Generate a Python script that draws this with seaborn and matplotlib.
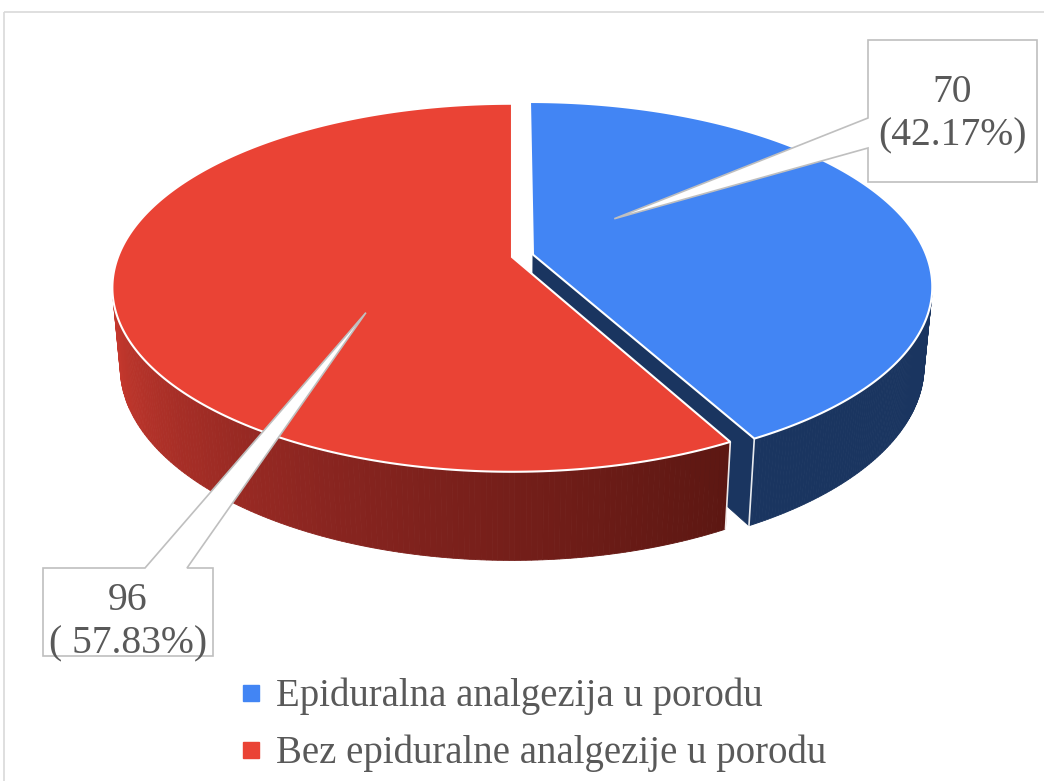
import numpy as np
import seaborn as sns
import matplotlib.pyplot as plt
from matplotlib.patches import Polygon, Rectangle
from matplotlib.lines import Line2D

# data
categories = ['Epiduralna analgezija u porodu', 'Bez epiduralne analgezije u porodu']
counts = [70, 96]
percent_labels = ['70\n(42.17%)', '96\n( 57.83%)']
top_colors = ['#4285F4', '#EA4335']
# side wall shades, listed left -> right
side_colors = [['#1A3560', '#1A3560'], ['#C8392E', '#8A2520', '#5C1712']]
explode = [0.055, 0.0]

sns.set_theme(style='white')
plt.rcParams['font.family'] = ['Liberation Serif', 'DejaVu Serif']

# simple perspective camera for the 3D pie
CX, CY = 512, 257
tilt = np.radians(27)
S, C = np.sin(tilt), np.cos(tilt)
D, F, H = 5.33, 2100, 0.227


def proj(X, Y, Z, off=(0.0, 0.0)):
    X = np.asarray(X) + off[0]
    Y = np.asarray(Y) + off[1]
    yc = Y * S + Z * C
    zc = Y * C - Z * S + D
    return CX + F * X / zc, CY - F * yc / zc


fig = plt.figure(figsize=(10.44, 7.81), dpi=100)
ax = fig.add_axes([0, 0, 1, 1])
ax.set_xlim(0, 1044)
ax.set_ylim(781, 0)
ax.axis('off')

ax.add_patch(Rectangle((4, 12), 1100, 800, fill=False, edgecolor='#D9D9D9', lw=1.2))

total = sum(counts)
spans = np.array(counts) / total * 360
starts = 90 - np.concatenate([[0], np.cumsum(spans)[:-1]])
ends = starts - spans

slices = []
for i in range(len(counts)):
    mid = np.radians((starts[i] + ends[i]) / 2)
    off = (explode[i] * np.cos(mid), explode[i] * np.sin(mid))
    th = np.radians(np.linspace(starts[i], ends[i], 300))
    slices.append((th, off))


def draw_wall(th, off, colors):
    vis = np.sin(th) < -1 / (D * C)
    seg = th[vis]
    if len(seg) < 2:
        return
    # order segments left -> right so the shading runs the right way
    seg = seg[np.argsort(np.cos(seg))]
    pal = sns.blend_palette(colors, len(seg))
    for k in range(len(seg) - 1):
        a, b = seg[k], seg[k + 1]
        xt, yt = proj([np.cos(a), np.cos(b)], [np.sin(a), np.sin(b)], 0, off)
        xb, yb = proj([np.cos(b), np.cos(a)], [np.sin(b), np.sin(a)], -H, off)
        ax.add_patch(Polygon(np.column_stack([np.r_[xt, xb], np.r_[yt, yb]]),
                             closed=True, facecolor=pal[k], edgecolor=pal[k], lw=0.6))


def draw_radial_face(angle, off, color):
    ca, sa = np.cos(angle), np.sin(angle)
    xt, yt = proj([0, ca], [0, sa], 0, off)
    xb, yb = proj([ca, 0], [sa, 0], -H, off)
    ax.add_patch(Polygon(np.column_stack([np.r_[xt, xb], np.r_[yt, yb]]),
                         closed=True, facecolor=color, edgecolor=color, lw=0.6))


def corner_line(angle, off):
    x, y = proj([np.cos(angle)] * 2, [np.sin(angle)] * 2, np.array([0, -H]), off)
    ax.plot(x, y, color='white', lw=1.2, alpha=0.9)


def draw_top(th, off, color):
    x, y = proj(np.r_[0, np.cos(th)], np.r_[0, np.sin(th)], 0, off)
    ax.add_patch(Polygon(np.column_stack([x, y]), closed=True,
                         facecolor=color, edgecolor='white', lw=1.5))


th_b, off_b = slices[0]
th_r, off_r = slices[1]

draw_radial_face(th_b[-1], off_b, side_colors[0][0])
draw_wall(th_b, off_b, side_colors[0])
corner_line(th_b[-1], off_b)
draw_wall(th_r, off_r, side_colors[1])
corner_line(th_r[0], off_r)
draw_top(th_r, off_r, top_colors[1])
draw_top(th_b, off_b, top_colors[0])

# callout labels
tip_b = proj(0.3 * np.cos(np.radians(44)), 0.3 * np.sin(np.radians(44)), 0, off_b)
tip_r = proj(0.46 * np.cos(np.radians(220)), 0.46 * np.sin(np.radians(220)), 0, off_r)

box_b = [(868, 40), (1037, 40), (1037, 182), (868, 182), (868, 148), tip_b, (868, 118)]
box_r = [(43, 568), (145, 568), tip_r, (187, 568), (213, 568), (213, 656), (43, 656)]
for pts in (box_b, box_r):
    ax.add_patch(Polygon(np.array(pts, dtype=float), closed=True,
                         facecolor='white', edgecolor='#BFBFBF', lw=1.2))

ax.text(952, 114, percent_labels[0], ha='center', va='center', fontsize=28.5,
        color='#595959', linespacing=1.25)
ax.text(128, 622, percent_labels[1], ha='center', va='center', fontsize=28.5,
        color='#595959', linespacing=1.25)

handles = [Line2D([], [], marker='s', linestyle='none', markersize=11.5,
                  markerfacecolor=c, markeredgecolor=c) for c in top_colors]
ax.legend(handles, categories, loc='upper left', bbox_to_anchor=(0.212, 0.157),
          frameon=False, fontsize=28, labelcolor='#595959', handlelength=0.55,
          handletextpad=0.35, labelspacing=0.5, borderpad=0.0, handleheight=0.7)

fig.savefig('out.png', dpi=100)
